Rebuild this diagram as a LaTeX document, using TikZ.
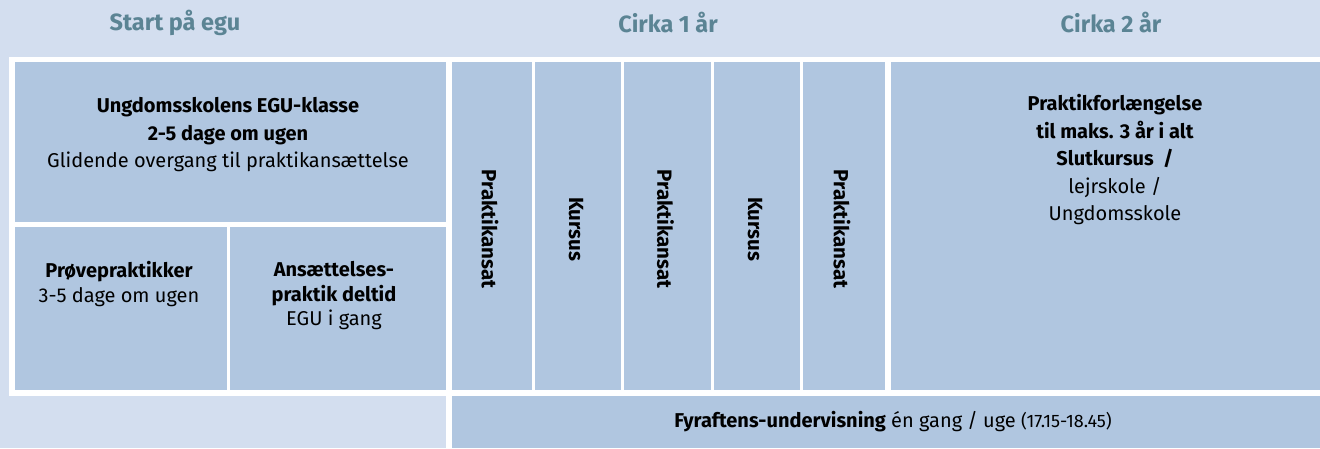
\documentclass[tikz,border=0pt]{standalone}
\usepackage{fontspec}
\setmainfont{Fira Sans}
\usetikzlibrary{positioning}
\definecolor{bgblue}{HTML}{D3DEEF}
\definecolor{boxblue}{HTML}{B0C6E0}
\definecolor{headteal}{HTML}{5B8494}
\tikzstyle{hd}=[text=headteal,font=\fontsize{23.5}{26}\selectfont\bfseries]
\tikzstyle{txt}=[align=center,font=\fontsize{20}{27.5}\selectfont]
\tikzstyle{txs}=[align=center,font=\fontsize{20}{24.5}\selectfont]
\tikzstyle{vt}=[rotate=-90,font=\fontsize{20.5}{24}\selectfont\bfseries]

\begin{document}
\begin{tikzpicture}[x=1pt,y=-1pt]
\fill[bgblue] (0,0) rectangle (1320,448);
\useasboundingbox (0,0) rectangle (1320,448);
\fill[white] (9,57) rectangle (1320,396);
\fill[white] (446,57) rectangle (452,448);
\node[hd] (start) at (175,23) {Start på egu};
\node[hd] (cirka1) at (668,23) {Cirka 1 år};
\node[hd] (cirka2) at (1111,23) {Cirka 2 år};
\fill[boxblue] (15,62) rectangle (446,222);
\node[txt] (egu) at (228,135) {\textbf{Ungdomsskolens EGU-klasse}\\ \textbf{2-5 dage om ugen}\\ Glidende overgang til praktikansættelse};
\fill[boxblue] (15,227) rectangle (227,390);
\fill[boxblue] (230,227) rectangle (446,390);
\node[txs,anchor=north] (proeve) at (119,258) {\textbf{Prøvepraktikker}\\ 3-5 dage om ugen};
\node[txs,anchor=north] (ansat) at (334,258) {\textbf{Ansættelses-}\\ \textbf{praktik deltid}\\ EGU i gang};
\foreach \a/\b/\t [count=\i] in {452/532/Praktikansat,535/621/Kursus,624/711/Praktikansat,714/800/Kursus,803/885/Praktikansat} {
\fill[boxblue] (\a,62) rectangle (\b,390);
\node[vt] (col\i) at ({(\a+\b)/2-2},229) {\t};}
\fill[boxblue] (891,62) rectangle (1320,390);
\node[txt] (forl) at (1115,160) {\textbf{Praktikforlængelse}\\ \textbf{til maks. 3 år i alt}\\ \textbf{Slutkursus~~/}\\ lejrskole /\\ Ungdomsskole};
\fill[boxblue] (452,396) rectangle (1320,448);
\node[font=\fontsize{20}{24}\selectfont] (fyr) at (893,422) {\textbf{Fyraftens-undervisning} én gang / uge {\fontsize{18}{20}\selectfont(17.15-18.45)}};
\end{tikzpicture}
\end{document}
